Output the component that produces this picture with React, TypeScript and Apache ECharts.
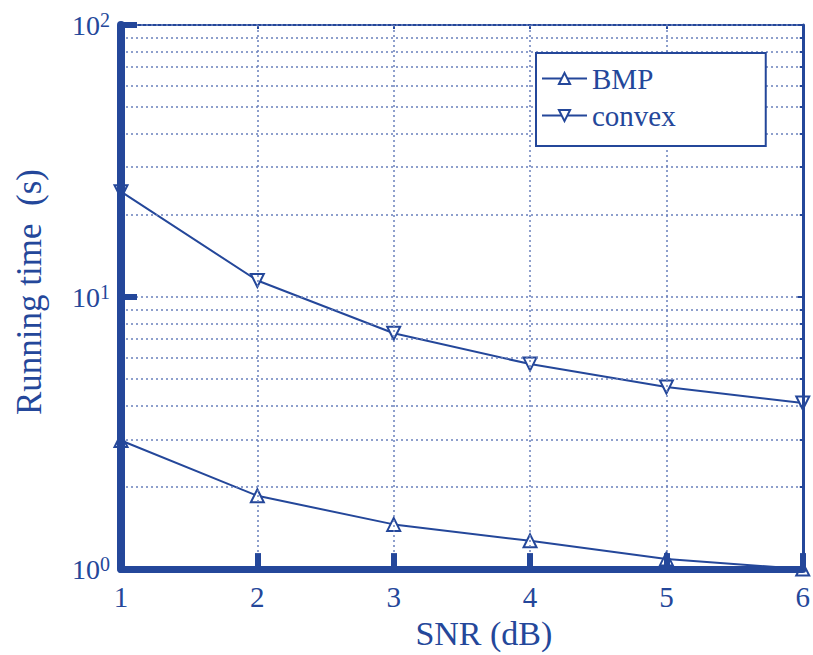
import React, { useEffect, useRef } from "react";
import * as echarts from "echarts";

const snr = [1, 2, 3, 4, 5, 6];
const bmp = [2.97, 1.86, 1.46, 1.27, 1.09, 1.0];
const convex = [24.4, 11.5, 7.36, 5.67, 4.67, 4.08];
const seriesNames = ["BMP", "convex"];

const BLUE = "#24479a";
const GRID = "#6a80bc";
const FONT = "'Liberation Serif', 'Times New Roman', serif";

export default function App() {
  const ref = useRef<HTMLDivElement>(null);
  useEffect(() => {
    const chart = echarts.init(ref.current!, undefined, { renderer: "svg" });
    const yLabel = (v: number) => `{b|10}{s|${Math.round(Math.log10(v))}}`;
    const dotted = { color: GRID, type: [2, 3], width: 1.5 };
    chart.setOption({
      animation: false,
      backgroundColor: "#ffffff",
      textStyle: { fontFamily: FONT, color: BLUE },
      grid: { left: 121, right: 7, top: 25, bottom: 84 },
      legend: {
        left: 536,
        top: 53,
        orient: "vertical",
        data: seriesNames,
        borderColor: BLUE,
        borderWidth: 2,
        backgroundColor: "#ffffff",
        padding: [11, 90, 16, 5],
        itemGap: 8,
        itemWidth: 45,
        itemHeight: 14,
        textStyle: { fontFamily: FONT, fontSize: 29, color: BLUE },
      },
      xAxis: [
        {
          type: "value",
          min: 1,
          max: 6,
          interval: 1,
          position: "bottom",
          name: "SNR (dB)",
          nameLocation: "middle",
          nameGap: 46,
          nameTextStyle: { fontFamily: FONT, fontSize: 34, color: BLUE, padding: [0, 0, 0, 44] },
          axisLine: { onZero: false, lineStyle: { color: BLUE, width: 7 } },
          axisTick: { inside: true, length: 16, lineStyle: { color: BLUE, width: 6 } },
          axisLabel: { fontFamily: FONT, fontSize: 29, color: BLUE, margin: 13 },
          splitLine: { show: true, lineStyle: dotted },
          z: 3,
        },
        {
          type: "value",
          min: 1,
          max: 6,
          interval: 1,
          position: "top",
          axisLine: { onZero: false, lineStyle: { color: BLUE, width: 2 } },
          axisTick: { inside: true, length: 4, lineStyle: { color: BLUE, width: 2 } },
          axisLabel: { show: false },
          splitLine: { show: false },
        },
      ],
      yAxis: [
        {
          type: "log",
          logBase: 10,
          min: 1,
          max: 100,
          position: "left",
          name: "Running time  (s)",
          nameLocation: "middle",
          nameGap: 74,
          nameRotate: 90,
          nameTextStyle: { fontFamily: FONT, fontSize: 35, color: BLUE, padding: [0, 0, 0, 10] },
          axisLine: { onZero: false, lineStyle: { color: BLUE, width: 8 } },
          axisTick: { inside: true, length: 16, lineStyle: { color: BLUE, width: 6 } },
          axisLabel: {
            formatter: yLabel,
            margin: 11,
            rich: {
              b: { fontFamily: FONT, fontSize: 28, color: BLUE, lineHeight: 30 },
              s: { fontFamily: FONT, fontSize: 20, color: BLUE, lineHeight: 14, verticalAlign: "top" },
            },
          },
          splitLine: { show: true, lineStyle: dotted },
          minorTick: { show: false, splitNumber: 9 },
          minorSplitLine: { show: true, lineStyle: dotted },
          z: 3,
        },
        {
          type: "log",
          logBase: 10,
          min: 1,
          max: 100,
          position: "right",
          axisLine: { onZero: false, lineStyle: { color: BLUE, width: 3 } },
          axisTick: { inside: true, length: 5, lineStyle: { color: BLUE, width: 2 } },
          minorTick: { show: true, splitNumber: 9, length: 3, lineStyle: { color: BLUE, width: 2 } },
          axisLabel: { show: false },
          splitLine: { show: false },
          z: 3,
        },
      ],
      series: [
        {
          name: seriesNames[0],
          type: "line",
          data: snr.map((x, i) => [x, bmp[i]]),
          symbol: "emptyTriangle",
          symbolSize: 13,
          color: BLUE,
          lineStyle: { width: 2, color: BLUE },
          itemStyle: { color: BLUE, borderWidth: 2 },
          z: 2,
        },
        {
          name: seriesNames[1],
          type: "line",
          data: snr.map((x, i) => [x, convex[i]]),
          symbol: "emptyTriangle",
          symbolRotate: 180,
          symbolSize: 13,
          color: BLUE,
          lineStyle: { width: 2, color: BLUE },
          itemStyle: { color: BLUE, borderWidth: 2 },
          z: 2,
        },
      ],
    });
    return () => chart.dispose();
  }, []);
  return <div ref={ref} style={{ width: 813, height: 655, position: "absolute", left: 0, top: 0 }} />;
}
